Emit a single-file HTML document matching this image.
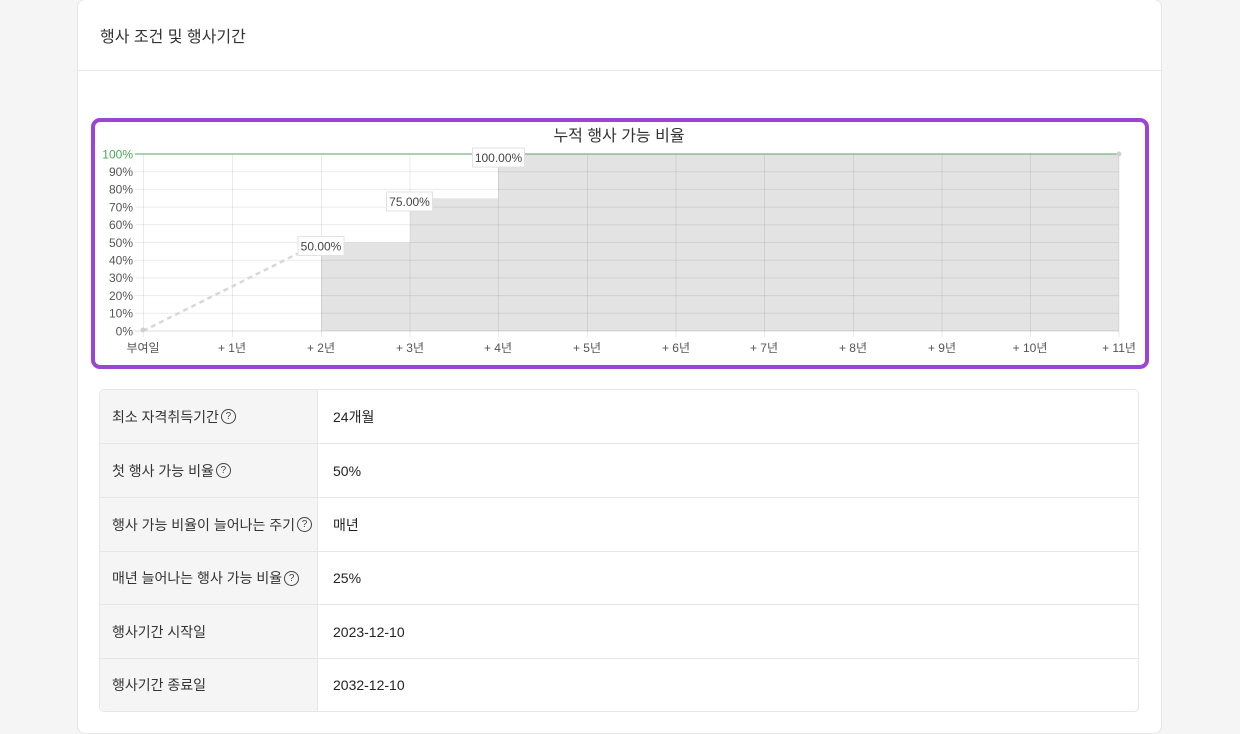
<!DOCTYPE html>
<html>
<head>
<meta charset="utf-8">
<style>
  html,body{margin:0;padding:0;}
  body{width:1240px;height:734px;background:#f5f5f5;position:relative;overflow:hidden;
    font-family:"Liberation Sans","Noto Sans CJK KR",sans-serif;color:#333;}
  .card{position:absolute;left:77px;top:-1px;width:1085px;height:735px;background:#fff;
    border:1px solid #e6e6e6;border-radius:8px;box-sizing:border-box;}
  .hdr{position:absolute;left:0;top:0;width:100%;height:71px;border-bottom:1px solid #e8e8e8;box-sizing:border-box;}
  .hdr span{position:absolute;left:22px;top:27px;font-size:16px;color:#333;line-height:22px;}
  .chartbox{position:absolute;left:91px;top:118px;width:1058px;height:251px;box-sizing:border-box;
    border:4px solid #9a45d4;border-radius:9px;}
  svg{position:absolute;left:0;top:0;}
  table{position:absolute;left:99px;top:389px;width:1040px;border-collapse:separate;border-spacing:0;
    border:1px solid #e6e6e6;border-radius:5px;font-size:14px;}
  td{height:54px;border-bottom:1px solid #e6e6e6;padding:0;box-sizing:border-box;vertical-align:middle;}
  tr.s td{height:53px;}
  tr:last-child td{border-bottom:none;height:52px;}
  td.l{width:218px;background:#f5f5f5;padding-left:12px;border-right:1px solid #e6e6e6;color:#333;}
  td.v{padding-left:15px;color:#222;}
  tr:first-child td.l{border-top-left-radius:5px;}
  tr:last-child td.l{border-bottom-left-radius:5px;}
  .q{display:inline-block;width:13px;height:13px;border:1px solid #444;border-radius:50%;font-size:10px;
    line-height:13px;text-align:center;vertical-align:middle;margin-left:2px;color:#444;position:relative;top:-1px;}
</style>
</head>
<body>
<div class="card">
  <div class="hdr"><span>행사 조건 및 행사기간</span></div>
</div>
<div class="chartbox"></div>
<svg width="1240" height="734" viewBox="0 0 1240 734" font-family="Liberation Sans, Noto Sans CJK KR, sans-serif">
  <polygon points="321,331 321,242.5 410,242.5 410,198.25 498,198.25 498,154 1119,154 1119,331" fill="#e3e3e3"/>
  <g stroke="rgba(0,0,0,0.08)" stroke-width="1">
    <line x1="135" y1="171.7" x2="1119" y2="171.7"/>
    <line x1="135" y1="189.4" x2="1119" y2="189.4"/>
    <line x1="135" y1="207.1" x2="1119" y2="207.1"/>
    <line x1="135" y1="224.8" x2="1119" y2="224.8"/>
    <line x1="135" y1="242.5" x2="1119" y2="242.5"/>
    <line x1="135" y1="260.2" x2="1119" y2="260.2"/>
    <line x1="135" y1="277.9" x2="1119" y2="277.9"/>
    <line x1="135" y1="295.6" x2="1119" y2="295.6"/>
    <line x1="135" y1="313.3" x2="1119" y2="313.3"/>
  </g>
  <line x1="135" y1="331" x2="1119" y2="331" stroke="rgba(0,0,0,0.13)" stroke-width="1"/>
  <g stroke="rgba(0,0,0,0.08)" stroke-width="1">
    <line x1="143.5" y1="154" x2="143.5" y2="337"/>
    <line x1="232.5" y1="154" x2="232.5" y2="337"/>
    <line x1="321.5" y1="154" x2="321.5" y2="337"/>
    <line x1="410" y1="154" x2="410" y2="337"/>
    <line x1="498.5" y1="154" x2="498.5" y2="337"/>
    <line x1="587.5" y1="154" x2="587.5" y2="337"/>
    <line x1="676" y1="154" x2="676" y2="337"/>
    <line x1="764.5" y1="154" x2="764.5" y2="337"/>
    <line x1="853.5" y1="154" x2="853.5" y2="337"/>
    <line x1="942" y1="154" x2="942" y2="337"/>
    <line x1="1030.5" y1="154" x2="1030.5" y2="337"/>
    <line x1="1119" y1="154" x2="1119" y2="337"/>
  </g>
  <line x1="135" y1="154" x2="1119" y2="154" stroke="#55a565" stroke-width="1"/>
  <line x1="143" y1="331" x2="300" y2="252.5" stroke="#d8d8d8" stroke-width="2.5" stroke-dasharray="5,4"/>
  <circle cx="143" cy="330" r="2.5" fill="#cfcfcf"/>
  <circle cx="1119" cy="154" r="2.5" fill="#d0d0d0"/>
  <text x="619" y="141" font-size="16" fill="#333" text-anchor="middle">누적 행사 가능 비율</text>
  <g font-size="12" fill="#555" text-anchor="end">
    <text x="133" y="158.5" fill="#4ea55e">100%</text>
    <text x="133" y="176">90%</text>
    <text x="133" y="193.7">80%</text>
    <text x="133" y="211.4">70%</text>
    <text x="133" y="229.1">60%</text>
    <text x="133" y="246.8">50%</text>
    <text x="133" y="264.5">40%</text>
    <text x="133" y="282.2">30%</text>
    <text x="133" y="299.9">20%</text>
    <text x="133" y="317.6">10%</text>
    <text x="133" y="335.3">0%</text>
  </g>
  <g font-size="12" fill="#555" text-anchor="middle">
    <text x="143" y="352">부여일</text>
    <text x="232" y="352">+ 1년</text>
    <text x="321" y="352">+ 2년</text>
    <text x="410" y="352">+ 3년</text>
    <text x="498" y="352">+ 4년</text>
    <text x="587" y="352">+ 5년</text>
    <text x="676" y="352">+ 6년</text>
    <text x="764" y="352">+ 7년</text>
    <text x="853" y="352">+ 8년</text>
    <text x="942" y="352">+ 9년</text>
    <text x="1030" y="352">+ 10년</text>
    <text x="1119" y="352">+ 11년</text>
  </g>
  <g font-size="12" fill="#444" text-anchor="middle">
    <rect x="298" y="236.5" width="46" height="19" fill="#fff" stroke="#e2e2e2"/>
    <text x="321" y="250.5">50.00%</text>
    <rect x="386.5" y="192" width="46" height="19" fill="#fff" stroke="#e2e2e2"/>
    <text x="409.5" y="206">75.00%</text>
    <rect x="472.5" y="148" width="52" height="19" fill="#fff" stroke="#e2e2e2"/>
    <text x="498.5" y="162">100.00%</text>
  </g>
</svg>
<table>
  <tr><td class="l">최소 자격취득기간<span class="q">?</span></td><td class="v">24개월</td></tr>
  <tr><td class="l">첫 행사 가능 비율<span class="q">?</span></td><td class="v">50%</td></tr>
  <tr><td class="l">행사 가능 비율이 늘어나는 주기<span class="q">?</span></td><td class="v">매년</td></tr>
  <tr class="s"><td class="l">매년 늘어나는 행사 가능 비율<span class="q">?</span></td><td class="v">25%</td></tr>
  <tr><td class="l">행사기간 시작일</td><td class="v">2023-12-10</td></tr>
  <tr class="s"><td class="l">행사기간 종료일</td><td class="v">2032-12-10</td></tr>
</table>
</body>
</html>
